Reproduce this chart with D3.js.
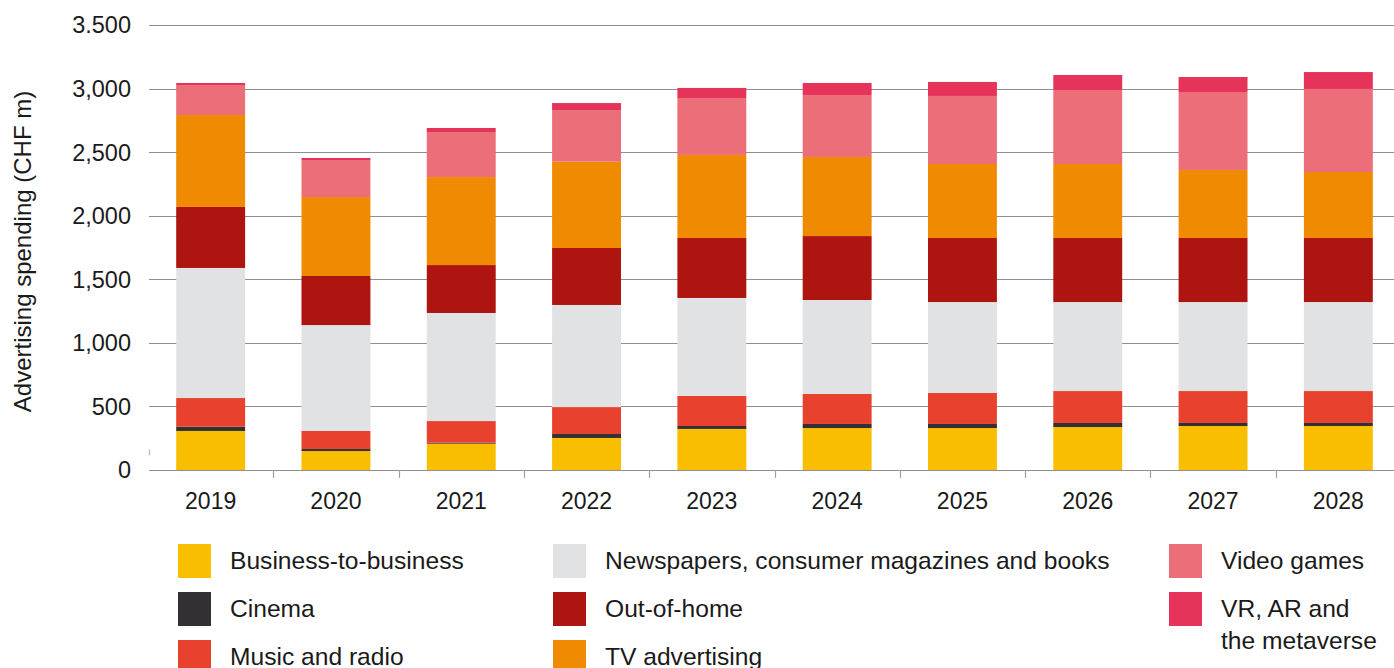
<!DOCTYPE html>
<html>
<head>
<meta charset="utf-8">
<script src="https://cdn.jsdelivr.net/npm/d3@7"></script>
<style>
  html, body { margin: 0; padding: 0; background: #fff; }
  svg { display: block; font-family: "Liberation Sans", Arial, Helvetica, sans-serif; }
</style>
</head>
<body>
<svg id="chart" width="1394" height="668"></svg>
<script>
// Advertising spending in Switzerland by segment (CHF m)
const years = ["2019", "2020", "2021", "2022", "2023", "2024", "2025", "2026", "2027", "2028"];

const businessToBusiness = [307, 149, 207, 252, 323, 330, 330, 338, 346, 346];
const cinema             = [34, 16, 8, 31, 23, 32, 32, 32, 24, 24];
const musicAndRadio      = [225, 142, 170, 212, 236, 236, 244, 251, 251, 251];
const newspapers         = [1023, 833, 850, 803, 771, 739, 715, 700, 700, 700];
const outOfHome          = [480, 386, 377, 448, 472, 503, 504, 504, 504, 504];
const tvAdvertising      = [723, 621, 692, 679, 653, 622, 582, 582, 535, 519];
const videoGames         = [236, 291, 354, 406, 448, 487, 535, 582, 613, 653];
const vrArMetaverse      = [16, 16, 32, 55, 79, 95, 110, 118, 118, 133];

const seriesNames = [
  "Business-to-business", "Cinema", "Music and radio",
  "Newspapers, consumer magazines and books", "Out-of-home", "TV advertising",
  "Video games", "VR, AR and the metaverse"
];
const seriesValues = [businessToBusiness, cinema, musicAndRadio, newspapers,
                      outOfHome, tvAdvertising, videoGames, vrArMetaverse];
const seriesColors = ["#F9BE00", "#333034", "#E8412E", "#E1E2E4",
                      "#AF1510", "#F08A00", "#EB6E78", "#E5335A"];

const yTickValues = [0, 500, 1000, 1500, 2000, 2500, 3000, 3500];
const yTickLabels = ["0", "500", "1,000", "1,500", "2,000", "2,500", "3,000", "3.500"];
const yTitle = "Advertising spending (CHF m)";

// Legend layout: three columns, entries listed column by column
const legendColumns = [[0, 1, 2], [3, 4, 5], [6, 7]];
const legendLines = {7: ["VR, AR and", "the metaverse"]};

(function draw() {
  // table for stacking
  const table = years.map((yr, i) => {
    const row = {year: yr};
    seriesNames.forEach((n, k) => { row[n] = seriesValues[k][i]; });
    return row;
  });
  const stacked = d3.stack().keys(seriesNames)(table);

  const svg = d3.select("#chart");
  const plotLeft = 148, plotRight = 1401, plotTop = 25, plotBottom = 470;

  const x = d3.scaleBand().domain(years).range([plotLeft, plotRight])
    .paddingInner(0.45).paddingOuter(0.225);
  const y = d3.scaleLinear().domain([0, 3500]).range([plotBottom, plotTop]);

  const gridColor = "#8f8f8f";

  // horizontal gridlines
  svg.append("g")
    .selectAll("line")
    .data(yTickValues)
    .join("line")
    .attr("x1", plotLeft + 1).attr("x2", 1394)
    .attr("y1", d => Math.round(y(d)) + 0.5).attr("y2", d => Math.round(y(d)) + 0.5)
    .attr("stroke", gridColor).attr("stroke-width", 1.2);

  // short mark on the value axis just above zero
  svg.append("line")
    .attr("x1", 149.5).attr("x2", 149.5)
    .attr("y1", y(160)).attr("y2", y(115))
    .attr("stroke", "#bdbdbd").attr("stroke-width", 1.5);

  // y tick labels
  svg.append("g")
    .selectAll("text")
    .data(yTickValues)
    .join("text")
    .attr("x", 131).attr("y", d => y(d))
    .attr("dy", "0.36em")
    .attr("text-anchor", "end")
    .attr("font-size", 23.5).attr("fill", "#1a1a1a")
    .text((d, i) => yTickLabels[i]);

  // y title
  svg.append("text")
    .attr("transform", `translate(22, ${(plotTop + plotBottom) / 2 + 4}) rotate(-90)`)
    .attr("text-anchor", "middle").attr("dy", "0.36em")
    .attr("font-size", 24).attr("fill", "#1a1a1a")
    .text(yTitle);

  // stacked bars
  svg.append("g")
    .selectAll("g")
    .data(stacked)
    .join("g")
    .attr("fill", (d, i) => seriesColors[i])
    .selectAll("rect")
    .data(d => d)
    .join("rect")
    .attr("x", d => x(d.data.year))
    .attr("width", x.bandwidth())
    .attr("y", d => y(d[1]))
    .attr("height", d => y(d[0]) - y(d[1]));

  // x axis: tick marks between categories and labels
  const step = x.step();
  const boundaries = years.slice(1).map(yr => x(yr) - (step - x.bandwidth()) / 2);
  svg.append("g")
    .selectAll("line")
    .data(boundaries)
    .join("line")
    .attr("x1", d => Math.round(d) + 0.5).attr("x2", d => Math.round(d) + 0.5)
    .attr("y1", plotBottom).attr("y2", plotBottom + 8)
    .attr("stroke", "#a0a0a0").attr("stroke-width", 1.2);

  svg.append("g")
    .selectAll("text")
    .data(years)
    .join("text")
    .attr("x", d => x(d) + x.bandwidth() / 2)
    .attr("y", 509)
    .attr("text-anchor", "middle")
    .attr("font-size", 23).attr("fill", "#1a1a1a")
    .text(d => d);

  // legend
  const colX = [178, 553, 1169];
  const rowY = [544, 592, 640];
  const sw = 33, sh = 34;
  legendColumns.forEach((col, c) => {
    col.forEach((k, r) => {
      const g = svg.append("g");
      g.append("rect")
        .attr("x", colX[c]).attr("y", rowY[r])
        .attr("width", sw).attr("height", sh)
        .attr("fill", seriesColors[k]);
      const lines = legendLines[k] || [seriesNames[k]];
      const t = g.append("text")
        .attr("font-size", 24.6).attr("fill", "#1a1a1a");
      lines.forEach((ln, j) => {
        t.append("tspan")
          .attr("x", colX[c] + 52)
          .attr("y", rowY[r] + sh / 2 + 7.5 + j * 32)
          .text(ln);
      });
    });
  });
})();
</script>
</body>
</html>
